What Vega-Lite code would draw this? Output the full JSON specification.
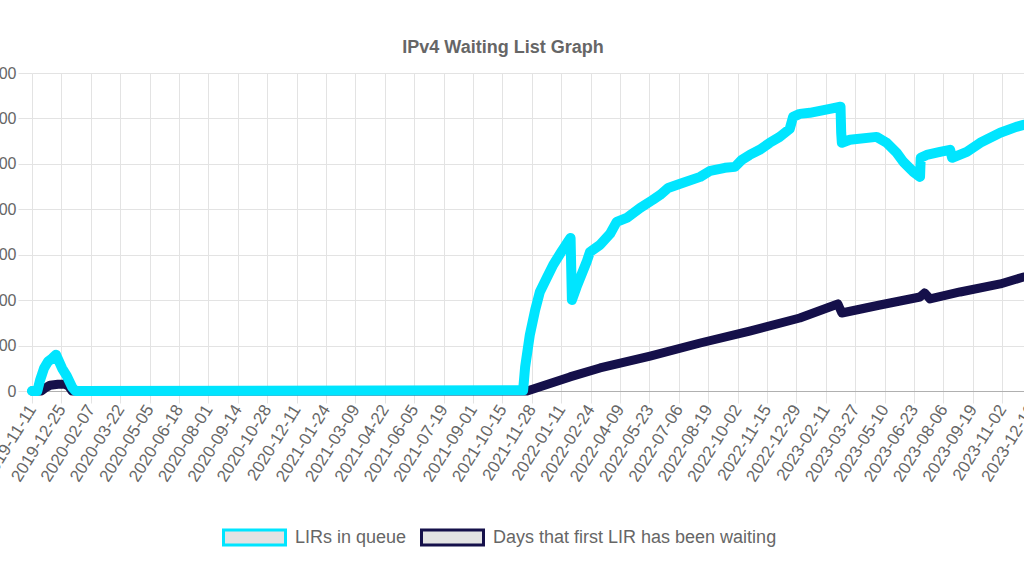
{
  "$schema": "https://vega.github.io/schema/vega-lite/v6.json",
  "width": 1022,
  "height": 318,
  "autosize": {"type": "none"},
  "padding": {"left": 32, "top": 73, "right": -30, "bottom": 185},
  "background": "white",
  "title": {
    "text": "IPv4 Waiting List Graph",
    "font": "Liberation Sans",
    "fontSize": 18,
    "fontWeight": "bold",
    "color": "#666666",
    "anchor": "middle",
    "dx": -40,
    "offset": 8
  },
  "config": {
    "view": {"stroke": null},
    "axis": {
      "labelFont": "Liberation Sans",
      "labelColor": "#666666",
      "gridColor": "#e3e3e3",
      "tickColor": "#e3e3e3"
    }
  },
  "datasets": {
    "queue": [
      {"d": "2019-11-11", "v": 0},
      {"d": "2019-11-19", "v": 0},
      {"d": "2019-11-23", "v": 70},
      {"d": "2019-11-29", "v": 150},
      {"d": "2019-12-05", "v": 195},
      {"d": "2019-12-11", "v": 215},
      {"d": "2019-12-17", "v": 240},
      {"d": "2019-12-19", "v": 220},
      {"d": "2019-12-26", "v": 150},
      {"d": "2020-01-02", "v": 100},
      {"d": "2020-01-10", "v": 25},
      {"d": "2020-01-15", "v": 0},
      {"d": "2021-11-15", "v": 5},
      {"d": "2021-11-18", "v": 159},
      {"d": "2021-11-25", "v": 370},
      {"d": "2021-12-03", "v": 535},
      {"d": "2021-12-10", "v": 654},
      {"d": "2021-12-21", "v": 753},
      {"d": "2021-12-30", "v": 833},
      {"d": "2022-01-12", "v": 925},
      {"d": "2022-01-21", "v": 985},
      {"d": "2022-01-25", "v": 1011},
      {"d": "2022-01-27", "v": 601},
      {"d": "2022-02-03", "v": 687},
      {"d": "2022-02-18", "v": 852},
      {"d": "2022-02-23", "v": 918},
      {"d": "2022-03-10", "v": 965},
      {"d": "2022-03-25", "v": 1037},
      {"d": "2022-04-04", "v": 1117},
      {"d": "2022-04-19", "v": 1143},
      {"d": "2022-05-09", "v": 1209},
      {"d": "2022-05-28", "v": 1262},
      {"d": "2022-06-08", "v": 1295},
      {"d": "2022-06-20", "v": 1341},
      {"d": "2022-07-08", "v": 1368},
      {"d": "2022-08-07", "v": 1414},
      {"d": "2022-08-22", "v": 1454},
      {"d": "2022-09-13", "v": 1474},
      {"d": "2022-09-28", "v": 1480},
      {"d": "2022-10-08", "v": 1526},
      {"d": "2022-10-20", "v": 1559},
      {"d": "2022-11-04", "v": 1593},
      {"d": "2022-11-19", "v": 1639},
      {"d": "2022-12-04", "v": 1678},
      {"d": "2022-12-19", "v": 1731},
      {"d": "2022-12-24", "v": 1810},
      {"d": "2023-01-03", "v": 1830},
      {"d": "2023-01-18", "v": 1837},
      {"d": "2023-02-02", "v": 1850},
      {"d": "2023-02-17", "v": 1863},
      {"d": "2023-03-05", "v": 1877},
      {"d": "2023-03-06", "v": 1705},
      {"d": "2023-03-07", "v": 1639},
      {"d": "2023-03-19", "v": 1659},
      {"d": "2023-04-28", "v": 1678},
      {"d": "2023-05-13", "v": 1639},
      {"d": "2023-05-28", "v": 1573},
      {"d": "2023-06-07", "v": 1513},
      {"d": "2023-06-22", "v": 1447},
      {"d": "2023-07-02", "v": 1414},
      {"d": "2023-07-03", "v": 1540},
      {"d": "2023-07-12", "v": 1559},
      {"d": "2023-08-01", "v": 1579},
      {"d": "2023-08-16", "v": 1593},
      {"d": "2023-08-19", "v": 1540},
      {"d": "2023-09-10", "v": 1579},
      {"d": "2023-09-30", "v": 1639},
      {"d": "2023-10-30", "v": 1705},
      {"d": "2023-11-23", "v": 1744},
      {"d": "2023-12-04", "v": 1758}
    ],
    "waiting": [
      {"d": "2019-11-11", "v": 0},
      {"d": "2019-11-25", "v": 0},
      {"d": "2019-12-01", "v": 20},
      {"d": "2019-12-08", "v": 38},
      {"d": "2019-12-20", "v": 45},
      {"d": "2019-12-30", "v": 45},
      {"d": "2020-01-05", "v": 30},
      {"d": "2020-01-10", "v": 0},
      {"d": "2021-11-21", "v": 0},
      {"d": "2022-01-24", "v": 93},
      {"d": "2022-03-10", "v": 152},
      {"d": "2022-05-24", "v": 231},
      {"d": "2022-08-07", "v": 317},
      {"d": "2022-10-20", "v": 396},
      {"d": "2023-01-03", "v": 482},
      {"d": "2023-03-01", "v": 575},
      {"d": "2023-03-07", "v": 515},
      {"d": "2023-05-03", "v": 568},
      {"d": "2023-07-02", "v": 621},
      {"d": "2023-07-09", "v": 648},
      {"d": "2023-07-17", "v": 608},
      {"d": "2023-08-31", "v": 654},
      {"d": "2023-10-30", "v": 707},
      {"d": "2023-12-04", "v": 753}
    ]
  },
  "encoding": {
    "x": {
      "field": "d",
      "type": "temporal",
      "scale": {
        "type": "utc",
        "domain": [
          {"year": 2019, "month": 11, "date": 11, "utc": true},
          {"year": 2024, "month": 1, "date": 18, "hours": 11, "minutes": 30, "utc": true}
        ]
      },
      "axis": {
        "title": null,
        "labelExpr": "utcFormat(datum.value, '%Y-%m-%d')",
        "labelAngle": -58,
        "labelAlign": "right",
        "labelBaseline": "middle",
        "labelFontSize": 17,
        "labelPadding": 3,
        "tickSize": 12,
        "labelOverlap": false,
        "labelFlush": false,
        "domainColor": "#b0b0b0",
        "grid": true,
        "values": [
          {"year": 2019, "month": 11, "date": 11, "utc": true},
          {"year": 2019, "month": 12, "date": 25, "utc": true},
          {"year": 2020, "month": 2, "date": 7, "utc": true},
          {"year": 2020, "month": 3, "date": 22, "utc": true},
          {"year": 2020, "month": 5, "date": 5, "utc": true},
          {"year": 2020, "month": 6, "date": 18, "utc": true},
          {"year": 2020, "month": 8, "date": 1, "utc": true},
          {"year": 2020, "month": 9, "date": 14, "utc": true},
          {"year": 2020, "month": 10, "date": 28, "utc": true},
          {"year": 2020, "month": 12, "date": 11, "utc": true},
          {"year": 2021, "month": 1, "date": 24, "utc": true},
          {"year": 2021, "month": 3, "date": 9, "utc": true},
          {"year": 2021, "month": 4, "date": 22, "utc": true},
          {"year": 2021, "month": 6, "date": 5, "utc": true},
          {"year": 2021, "month": 7, "date": 19, "utc": true},
          {"year": 2021, "month": 9, "date": 1, "utc": true},
          {"year": 2021, "month": 10, "date": 15, "utc": true},
          {"year": 2021, "month": 11, "date": 28, "utc": true},
          {"year": 2022, "month": 1, "date": 11, "utc": true},
          {"year": 2022, "month": 2, "date": 24, "utc": true},
          {"year": 2022, "month": 4, "date": 9, "utc": true},
          {"year": 2022, "month": 5, "date": 23, "utc": true},
          {"year": 2022, "month": 7, "date": 6, "utc": true},
          {"year": 2022, "month": 8, "date": 19, "utc": true},
          {"year": 2022, "month": 10, "date": 2, "utc": true},
          {"year": 2022, "month": 11, "date": 15, "utc": true},
          {"year": 2022, "month": 12, "date": 29, "utc": true},
          {"year": 2023, "month": 2, "date": 11, "utc": true},
          {"year": 2023, "month": 3, "date": 27, "utc": true},
          {"year": 2023, "month": 5, "date": 10, "utc": true},
          {"year": 2023, "month": 6, "date": 23, "utc": true},
          {"year": 2023, "month": 8, "date": 6, "utc": true},
          {"year": 2023, "month": 9, "date": 19, "utc": true},
          {"year": 2023, "month": 11, "date": 2, "utc": true},
          {"year": 2023, "month": 12, "date": 16, "utc": true}
        ]
      }
    },
    "y": {
      "field": "v",
      "type": "quantitative",
      "scale": {"domain": [0, 2100], "nice": false},
      "axis": {
        "title": null,
        "values": [0, 300, 600, 900, 1200, 1500, 1800, 2100],
        "format": ",d",
        "labelFontSize": 16,
        "labelPadding": 2,
        "tickSize": 14,
        "domain": false,
        "grid": true
      }
    }
  },
  "layer": [
    {
      "data": {"name": "waiting"},
      "mark": {"type": "line", "strokeWidth": 9, "strokeCap": "round", "strokeJoin": "round"},
      "encoding": {
        "color": {
          "datum": "Days that first LIR has been waiting",
          "type": "nominal",
          "scale": {
            "domain": ["LIRs in queue", "Days that first LIR has been waiting"],
            "range": ["#00e5ff", "#15104a"]
          },
          "legend": {
            "title": null,
            "orient": "none",
            "direction": "horizontal",
            "legendX": 190,
            "legendY": 453,
            "symbolType": "M-1,-0.75H5.2V0.75H-1Z",
            "symbolSize": 400,
            "symbolStrokeWidth": 3,
            "symbolFillColor": "#e3e3e3",
            "labelFont": "Liberation Sans",
            "labelFontSize": 18,
            "labelColor": "#666666",
            "labelOffset": 50,
            "columnPadding": 8,
            "labelLimit": 400,
            "encode": {
              "symbols": {
                "update": {
                  "fill": {"value": "#e3e3e3"},
                  "fillOpacity": {"value": 1},
                  "strokeWidth": {"value": 3},
                  "size": {"value": 400},
                  "opacity": {"value": 1}
                }
              }
            }
          }
        }
      }
    },
    {
      "data": {"name": "queue"},
      "mark": {"type": "line", "strokeWidth": 10, "strokeCap": "round", "strokeJoin": "round"},
      "encoding": {
        "color": {"datum": "LIRs in queue", "type": "nominal"}
      }
    }
  ]
}
